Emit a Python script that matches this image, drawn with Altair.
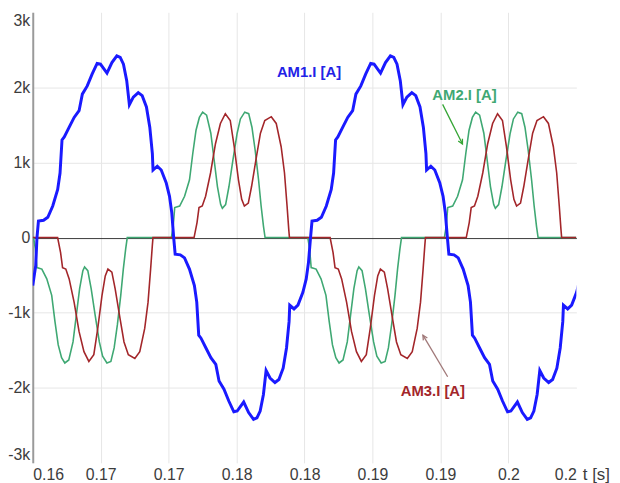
import json
import altair as alt
import pandas as pd

# ---------------- axis ticks / labels ----------------
X_TICKS = [0.16, 0.165, 0.17, 0.175, 0.18, 0.185, 0.19, 0.195, 0.2]
X_LABELS = ["0.16", "0.17", "0.17", "0.18", "0.18", "0.19", "0.19", "0.2", "0.2"]
Y_TICKS = [-3000, -2000, -1000, 0, 1000, 2000, 3000]
Y_LABELS = ["-3k", "-2k", "-1k", "0", "1k", "2k", "3k"]

# ---------------- AM1.I [A] (blue) ----------------
# one digitized half-cycle: ms after the zero crossing, current in A
AM1_HALF_MS = [0.000, 0.109, 0.486, 0.798, 1.161, 1.524, 1.698, 1.843, 2.010, 2.373,
               2.736, 3.099, 3.338, 3.701, 4.064, 4.427, 4.673, 5.152, 5.515, 5.878,
               6.125, 6.364, 6.604, 6.800, 7.090, 7.453, 7.743, 8.055, 8.302, 8.491,
               8.541, 8.853, 9.144, 9.507, 9.753, 9.920]
AM1_HALF_A = [0, 220, 230, 270, 420, 640, 860, 1300, 1340, 1470,
              1600, 1690, 1910, 2020, 2180, 2320, 2310, 2190, 2330, 2420,
              2400, 2310, 2090, 1770, 1870, 1930, 1890, 1740, 1470, 1120,
              900, 950, 900, 730, 550, 330]
AM1_HALF_START_S = [0.16031, 0.17037, 0.18044, 0.19051]
AM1_HALF_SIGN = [1, -1, 1, -1]
AM1_LEAD_S = [0.16000, 0.16022]
AM1_LEAD_A = [-640, -370]

# ---------------- AM2.I [A] (green) ----------------
AM2_PULSE_MS = [0.000, 0.131, 0.247, 0.610, 0.972, 1.335, 1.575, 1.814, 2.061, 2.300,
                2.591, 2.903, 3.149, 3.389, 3.628, 3.752, 3.991, 4.238, 4.528, 4.840,
                5.080, 5.399, 5.689, 5.929, 6.168, 6.415, 6.604, 6.778, 6.894]
AM2_PULSE_A = [0, 150, 400, 420, 550, 770, 1120, 1430, 1600, 1670,
               1630, 1390, 1030, 680, 440, 390, 440, 680, 1030, 1390,
               1580, 1670, 1650, 1470, 1160, 770, 420, 150, 0]
AM2_PULSE_START_S = [0.16006, 0.17020, 0.18024, 0.19029]
AM2_PULSE_SIGN = [-1, 1, -1, 1]

# ---------------- AM3.I [A] (dark red) ----------------
AM3_PULSE_MS = [0.000, 0.218, 0.363, 0.602, 0.849, 1.212, 1.575, 1.938, 2.300, 2.663,
                2.954, 3.266, 3.505, 3.701, 3.991, 4.231, 4.594, 4.884, 5.203, 5.682,
                6.045, 6.408, 6.654, 6.843, 6.967, 7.017]
AM3_PULSE_A = [0, 200, 400, 420, 550, 860, 1250, 1520, 1650, 1560,
               1210, 770, 510, 420, 460, 680, 1080, 1390, 1560, 1610,
               1520, 1210, 860, 420, 110, 0]
AM3_PULSE_START_S = [0.16183, 0.17187, 0.18188, 0.19190]
AM3_PULSE_SIGN = [-1, 1, -1, 1]

EDGE_S = [0.16, 0.2]

# ---------------- annotations ----------------
LABEL_TEXT = ["AM1.I [A]", "AM2.I [A]", "AM3.I [A]"]
LABEL_T = [0.18033, 0.19177, 0.18944]
LABEL_A = [2200, 1900, -2040]
ARROW_NAME = ["AM2.I [A]", "AM3.I [A]"]
ARROW_T1 = [0.19016, 0.19053]
ARROW_A1 = [1774, -1853]
ARROW_T2 = [0.19162, 0.18871]
ARROW_A2 = [1246, -1299]

SERIES = ["AM1.I [A]", "AM2.I [A]", "AM3.I [A]"]
COLORS = ["#1a1aff", "#3fa873", "#a3262a"]


def build(name, starts, signs, offs_ms, vals, lead_t=(), lead_v=(), edges=False):
    rows = []
    if edges:
        rows.append((EDGE_S[0], 0))
    rows += list(zip(lead_t, lead_v))
    for s, sg in zip(starts, signs):
        for o, v in zip(offs_ms, vals):
            rows.append((round(s + o / 1000.0, 6), sg * v))
    if edges:
        rows.append((EDGE_S[1], 0))
    return pd.DataFrame({"series": name, "t": [r[0] for r in rows],
                         "v": [r[1] for r in rows], "idx": range(len(rows))})


am1 = build(SERIES[0], AM1_HALF_START_S, AM1_HALF_SIGN, AM1_HALF_MS, AM1_HALF_A,
            AM1_LEAD_S, AM1_LEAD_A)
am2 = build(SERIES[1], AM2_PULSE_START_S, AM2_PULSE_SIGN, AM2_PULSE_MS, AM2_PULSE_A,
            edges=True)
am3 = build(SERIES[2], AM3_PULSE_START_S, AM3_PULSE_SIGN, AM3_PULSE_MS, AM3_PULSE_A,
            edges=True)

FONT = "Liberation Sans"
LABEL_COLOR = "#3c3c3c"
x_label_expr = json.dumps(X_LABELS) + "[round((datum.value - 0.16) / 0.005)]"
y_label_expr = json.dumps(Y_LABELS) + "[round(datum.value / 1000) + 3]"

x_enc = alt.X("t:Q", scale=alt.Scale(domain=[0.16, 0.2], nice=False, zero=False),
              axis=alt.Axis(values=X_TICKS, labelExpr=x_label_expr, labelFlush=True,
                            labelFont=FONT, labelFontSize=16, labelColor=LABEL_COLOR,
                            labelPadding=4, ticks=False, domain=False, grid=True,
                            gridColor="#e6e6e6",
                            gridOpacity={"condition": {"test": "datum.value > 0.1999", "value": 0}, "value": 1},
                            title="t [s]", titleX=555, titleY=4, titleAlign="left",
                            titleBaseline="top", titleAngle=0, titleFont=FONT,
                            titleFontSize=17, titleFontWeight="normal",
                            titleColor=LABEL_COLOR))
y_enc = alt.Y("v:Q", scale=alt.Scale(domain=[-3000, 3000], nice=False),
              axis=alt.Axis(values=Y_TICKS, labelExpr=y_label_expr, labelFlush=True,
                            labelFont=FONT, labelFontSize=16, labelColor=LABEL_COLOR,
                            labelPadding=3, ticks=False, domain=True,
                            domainColor="#9a9a9a", domainWidth=2, grid=True,
                            gridColor={"condition": {"test": "datum.value == 0", "value": "#3a3a3a"}, "value": "#e6e6e6"},
                            gridOpacity={"condition": {"test": "abs(datum.value) > 2500", "value": 0}, "value": 1},
                            title=None))

color_scale = alt.Scale(domain=SERIES, range=COLORS)


def line(df, width):
    return alt.Chart(df).mark_line(strokeWidth=width, clip=True).encode(
        x=x_enc, y=y_enc,
        color=alt.Color("series:N", scale=color_scale, legend=None),
        order="idx:Q")


lbl = pd.DataFrame({"text": LABEL_TEXT, "t": LABEL_T, "v": LABEL_A})
texts = []
for name, col in zip(SERIES, ["#2222e6", "#3fa873", "#a3262a"]):
    texts.append(alt.Chart(lbl[lbl.text == name]).mark_text(
        font=FONT, fontSize=15, fontWeight="bold", color=col,
        align="center", baseline="middle").encode(x="t:Q", y="v:Q", text="text:N"))

arr = pd.DataFrame({"name": ARROW_NAME, "t1": ARROW_T1, "v1": ARROW_A1,
                    "t2": ARROW_T2, "v2": ARROW_A2})
ARROW_COLORS = ["#35a535", "#a07878"]
ARROW_ANGLES = [153, 329]
arrows = []
for i, name in enumerate(ARROW_NAME):
    sub = arr[arr.name == name]
    arrows.append(alt.Chart(sub).mark_rule(color=ARROW_COLORS[i], strokeWidth=1.3).encode(
        x="t1:Q", y="v1:Q", x2="t2:Q", y2="v2:Q"))
    arrows.append(alt.Chart(sub).mark_point(
        shape="M-0.5,1L0,0L0.5,1", filled=False, size=90, angle=ARROW_ANGLES[i],
        color=ARROW_COLORS[i], strokeWidth=1.3, opacity=1).encode(x="t2:Q", y="v2:Q"))

chart = alt.layer(
    line(am2, 1.6), line(am3, 1.6), line(am1, 3), *arrows, *texts
).properties(
    width=549, height=455,
    autosize=alt.AutoSizeParams(type="none"),
    padding={"left": 25, "top": 2, "right": 36, "bottom": 18},
    background="white",
).configure_view(stroke=None)

chart.save("out.html", embed_options={"renderer": "svg", "actions": False})
